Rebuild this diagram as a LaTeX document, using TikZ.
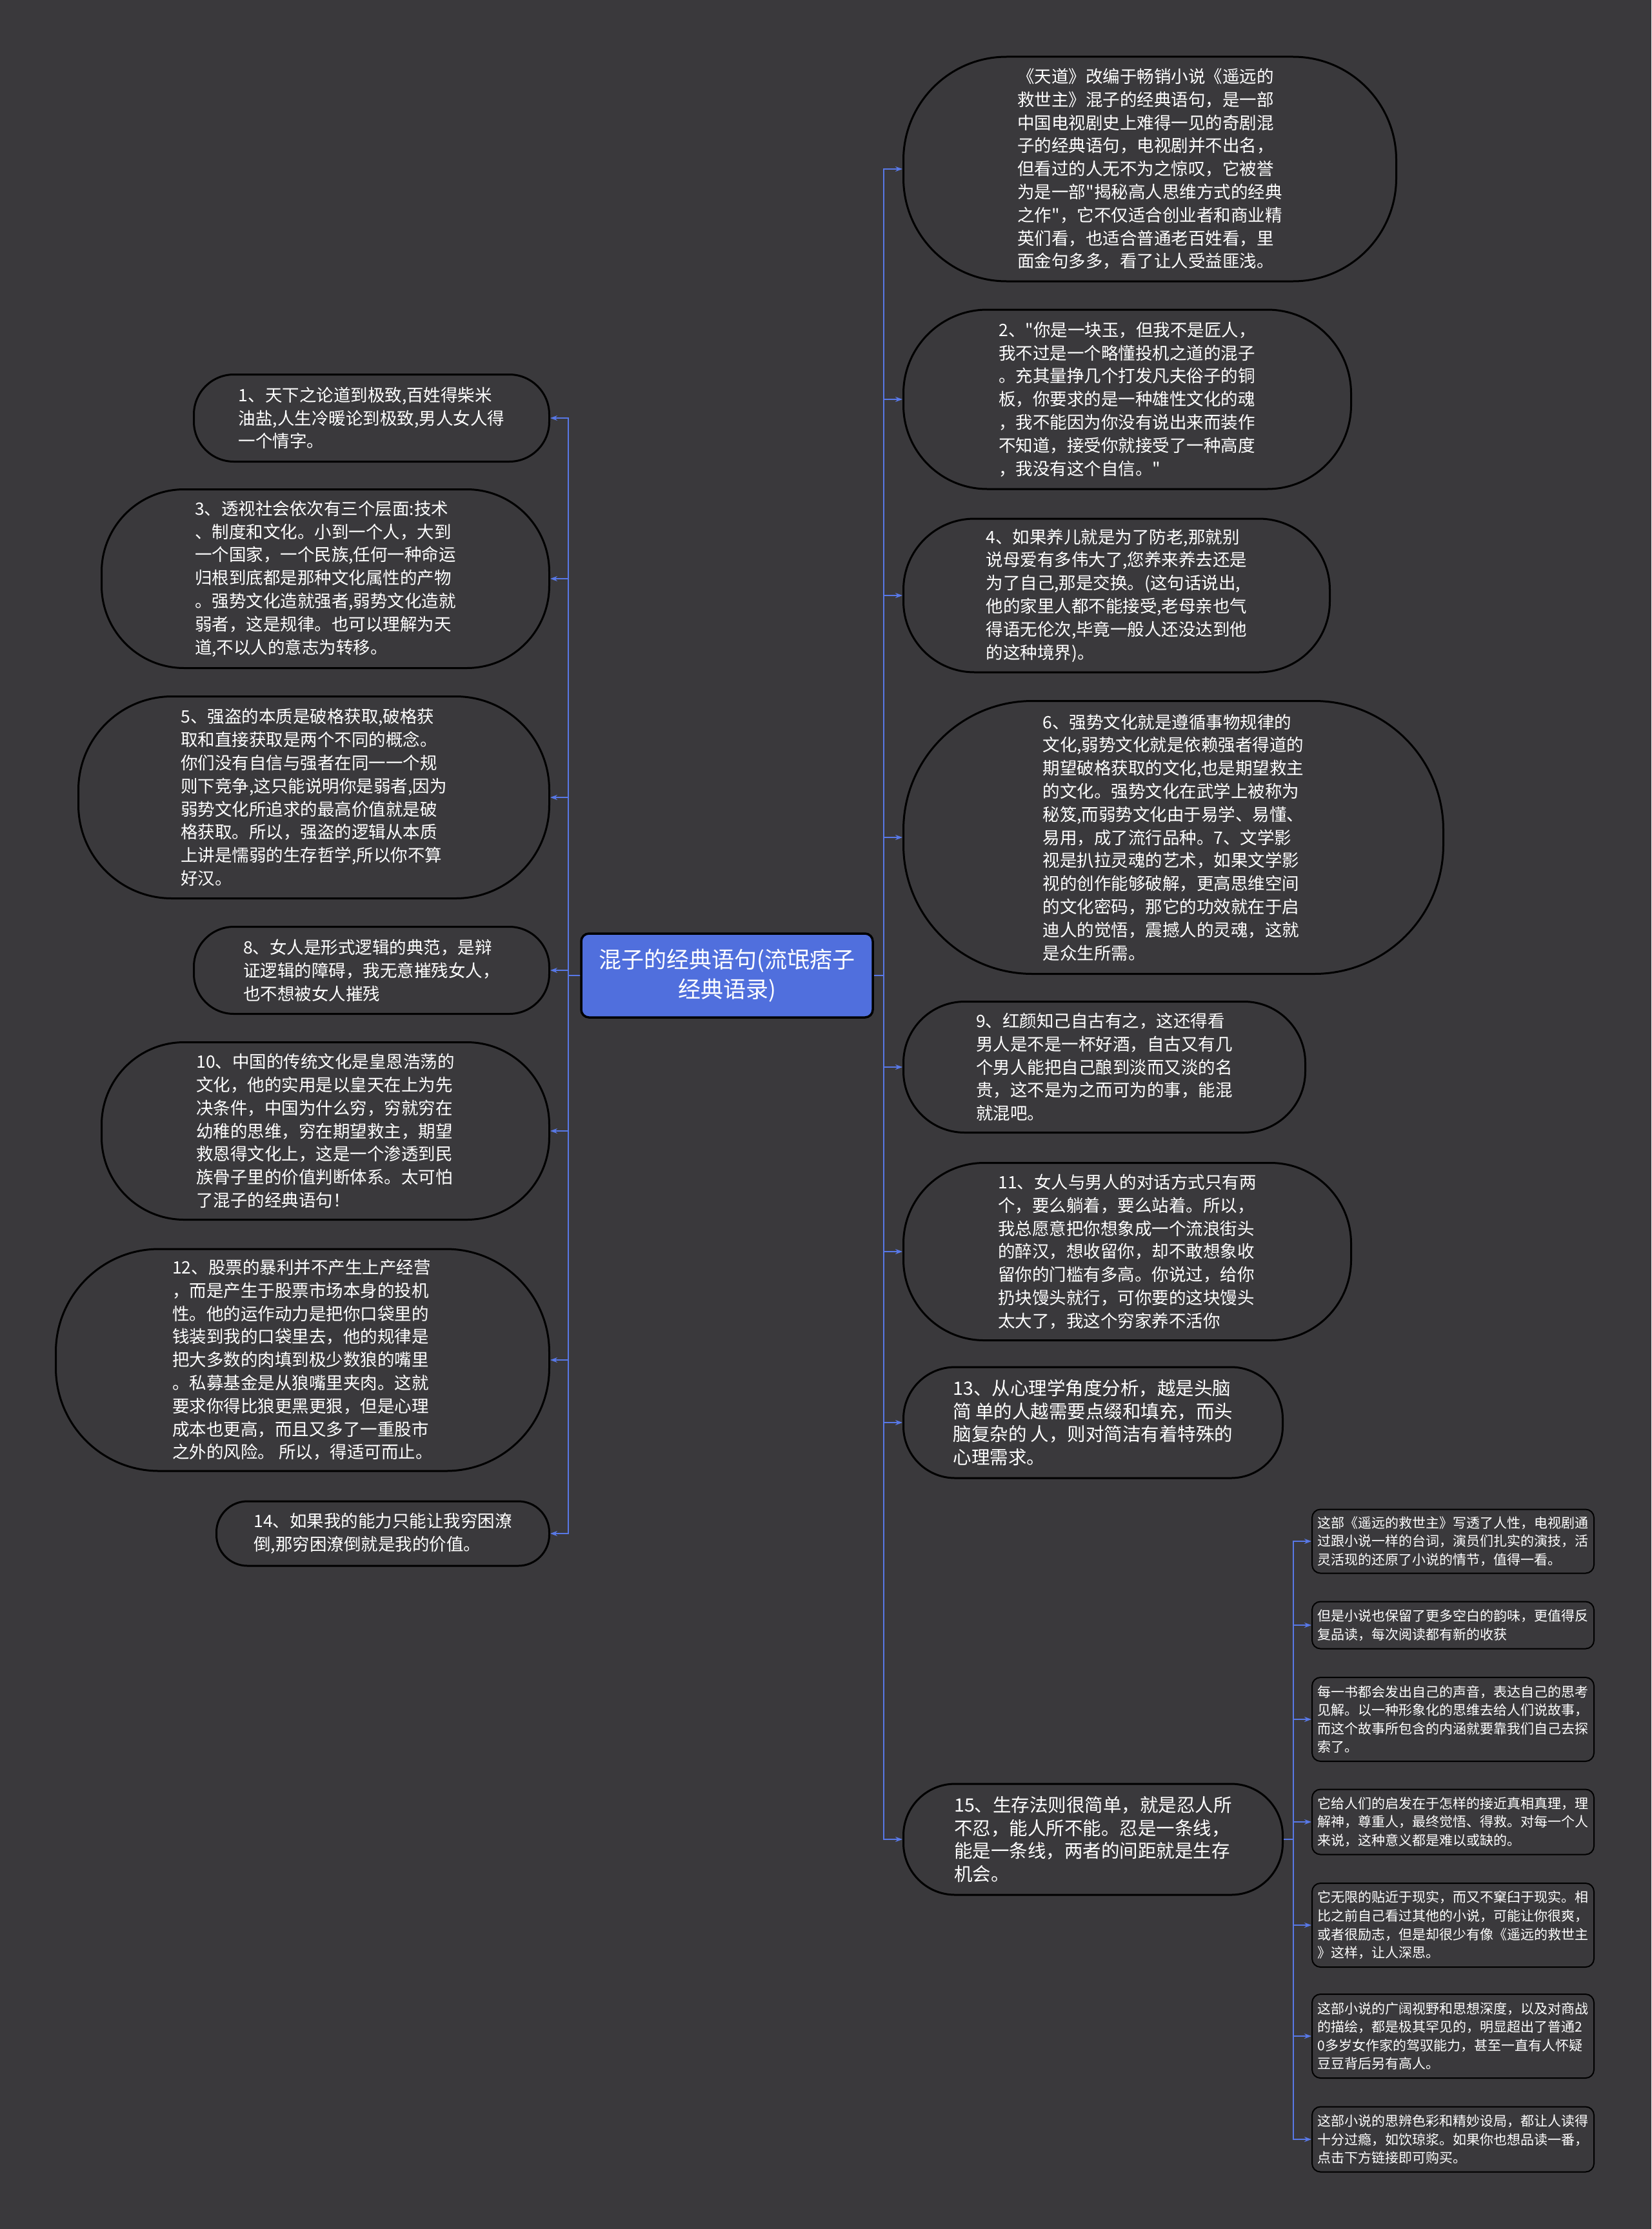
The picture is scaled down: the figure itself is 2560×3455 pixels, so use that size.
\documentclass[tikz,border=0pt]{standalone}
\usepackage{fontspec}
\setmainfont{Noto Sans CJK SC}
\usetikzlibrary{arrows.meta}
\definecolor{mapBg}{RGB}{58,57,60}
\definecolor{linkBlue}{RGB}{88,120,230}
\definecolor{rootBlue}{RGB}{80,111,221}
\newcommand{\qt}{\textquotedbl{}}
\tikzset{
  topic/.style={draw=black,line width=3pt,fill=mapBg,text=white,align=left,inner sep=8pt,
    font=\fontsize{26.5pt}{35.8pt}\selectfont},
  pill/.style={rounded corners=#1},
  note/.style={draw=black,line width=2pt,fill=mapBg,text=white,align=left,inner sep=8pt,
    rounded corners=13pt,minimum width=437pt,font=\fontsize{21pt}{28.6pt}\selectfont},
  link/.style={draw=linkBlue,line width=2.8pt,-{Stealth[length=11pt,width=8pt]}},
}
\begin{document}
\begin{tikzpicture}[x=1pt,y=-1pt]
  \fill[mapBg] (0,0) rectangle (2560,3455);
  \useasboundingbox (0,0) rectangle (2560,3455);
  \node[draw=black,line width=3.5pt,fill=rootBlue,text=white,rounded corners=12pt,align=center,
    minimum width=452pt,minimum height=130pt,font=\fontsize{35pt}{46pt}\selectfont] (root) at (1127,1512)
    {混子的经典语句(流氓痞子\\经典语录)};
  \coordinate (rjoint) at (1370,1512);
  \coordinate (ljoint) at (881,1512);
  % right side
  \node[topic,pill=160pt,anchor=west,minimum width=764pt,minimum height=348pt] (r1) at (1399,262)
    {《天道》改编于畅销小说《遥远的\\救世主》混子的经典语句，是一部\\中国电视剧史上难得一见的奇剧混\\子的经典语句，电视剧并不出名，\\但看过的人无不为之惊叹，它被誉\\为是一部\qt 揭秘高人思维方式的经典\\之作\qt ，它不仅适合创业者和商业精\\英们看，也适合普通老百姓看，里\\面金句多多，看了让人受益匪浅。};
  \node[topic,pill=130pt,anchor=west,minimum width=694pt,minimum height=278pt] (r2) at (1399,619)
    {2、\qt 你是一块玉，但我不是匠人，\\我不过是一个略懂投机之道的混子\\。充其量挣几个打发凡夫俗子的铜\\板，你要求的是一种雄性文化的魂\\，我不能因为你没有说出来而装作\\不知道，接受你就接受了一种高度\\，我没有这个自信。\qt};
  \node[topic,pill=110pt,anchor=west,minimum width=661pt,minimum height=238pt] (r4) at (1399,923)
    {4、如果养儿就是为了防老,那就别\\说母爱有多伟大了,您养来养去还是\\为了自己,那是交换。(这句话说出,\\他的家里人都不能接受,老母亲也气\\得语无伦次,毕竟一般人还没达到他\\的这种境界)。};
  \node[topic,pill=200pt,anchor=west,minimum width=837pt,minimum height=423pt] (r6) at (1399,1298)
    {6、强势文化就是遵循事物规律的\\文化,弱势文化就是依赖强者得道的\\期望破格获取的文化,也是期望救主\\的文化。强势文化在武学上被称为\\秘笈,而弱势文化由于易学、易懂、\\易用，成了流行品种。7、文学影\\视是扒拉灵魂的艺术，如果文学影\\视的创作能够破解，更高思维空间\\的文化密码，那它的功效就在于启\\迪人的觉悟，震撼人的灵魂，这就\\是众生所需。};
  \node[topic,pill=95pt,anchor=west,minimum width=623pt,minimum height=203pt] (r9) at (1399,1654)
    {9、红颜知己自古有之，这还得看\\男人是不是一杯好酒，自古又有几\\个男人能把自己酿到淡而又淡的名\\贵，这不是为之而可为的事，能混\\就混吧。};
  \node[topic,pill=125pt,anchor=west,minimum width=694pt,minimum height=275pt] (r11) at (1399,1940)
    {11、女人与男人的对话方式只有两\\个，要么躺着，要么站着。所以，\\我总愿意把你想象成一个流浪街头\\的醉汉，想收留你，却不敢想象收\\留你的门槛有多高。你说过，给你\\扔块馒头就行，可你要的这块馒头\\太大了，我这个穷家养不活你};
  \node[topic,pill=80pt,anchor=west,minimum width=588pt,minimum height=172pt,
    font=\fontsize{28.5pt}{35.8pt}\selectfont] (r13) at (1399,2205)
    {13、从心理学角度分析，越是头脑\\简 单的人越需要点缀和填充，而头\\脑复杂的 人，则对简洁有着特殊的\\心理需求。};
  \node[topic,pill=80pt,anchor=west,minimum width=588pt,minimum height=172pt,
    font=\fontsize{28.5pt}{35.8pt}\selectfont] (r15) at (1399,2851)
    {15、生存法则很简单，就是忍人所\\不忍，能人所不能。忍是一条线，\\能是一条线，两者的间距就是生存\\机会。};
  % left side
  \node[topic,pill=62pt,anchor=east,minimum width=551pt,minimum height=135pt] (l1) at (853,648)
    {1、天下之论道到极致,百姓得柴米\\油盐,人生冷暖论到极致,男人女人得\\一个情字。};
  \node[topic,pill=128pt,anchor=east,minimum width=694pt,minimum height=277pt] (l3) at (853,897)
    {3、透视社会依次有三个层面:技术\\、制度和文化。小到一个人，大到\\一个国家，一个民族,任何一种命运\\归根到底都是那种文化属性的产物\\。强势文化造就强者,弱势文化造就\\弱者，这是规律。也可以理解为天\\道,不以人的意志为转移。};
  \node[topic,pill=145pt,anchor=east,minimum width=730pt,minimum height=313pt] (l5) at (853,1236)
    {5、强盗的本质是破格获取,破格获\\取和直接获取是两个不同的概念。\\你们没有自信与强者在同一一个规\\则下竞争,这只能说明你是弱者,因为\\弱势文化所追求的最高价值就是破\\格获取。所以，强盗的逻辑从本质\\上讲是懦弱的生存哲学,所以你不算\\好汉。};
  \node[topic,pill=62pt,anchor=east,minimum width=551pt,minimum height=135pt] (l8) at (853,1504)
    {8、女人是形式逻辑的典范，是辩\\证逻辑的障碍，我无意摧残女人，\\也不想被女人摧残};
  \node[topic,pill=128pt,anchor=east,minimum width=694pt,minimum height=275pt] (l10) at (853,1753)
    {10、中国的传统文化是皇恩浩荡的\\文化，他的实用是以皇天在上为先\\决条件，中国为什么穷，穷就穷在\\幼稚的思维，穷在期望救主，期望\\救恩得文化上，这是一个渗透到民\\族骨子里的价值判断体系。太可怕\\了混子的经典语句！};
  \node[topic,pill=160pt,anchor=east,minimum width=765pt,minimum height=344pt] (l12) at (853,2108)
    {12、股票的暴利并不产生上产经营\\，而是产生于股票市场本身的投机\\性。他的运作动力是把你口袋里的\\钱装到我的口袋里去，他的规律是\\把大多数的肉填到极少数狼的嘴里\\。私募基金是从狼嘴里夹肉。这就\\要求你得比狼更黑更狠，但是心理\\成本也更高，而且又多了一重股市\\之外的风险。 所以，得适可而止。};
  \node[topic,pill=48pt,anchor=east,minimum width=516pt,minimum height=100pt] (l14) at (853,2377)
    {14、如果我的能力只能让我穷困潦\\倒,那穷困潦倒就是我的价值。};
  % notes of 15
  \coordinate (sjoint) at (2005,2851);
  \node[note,anchor=west,minimum height=99pt] (s1) at (2033,2389)
    {这部《遥远的救世主》写透了人性，电视剧通\\过跟小说一样的台词，演员们扎实的演技，活\\灵活现的还原了小说的情节，值得一看。};
  \node[note,anchor=west,minimum height=73pt] (s2) at (2033,2519)
    {但是小说也保留了更多空白的韵味，更值得反\\复品读，每次阅读都有新的收获};
  \node[note,anchor=west,minimum height=130pt] (s3) at (2033,2665)
    {每一书都会发出自己的声音，表达自己的思考\\见解。以一种形象化的思维去给人们说故事，\\而这个故事所包含的内涵就要靠我们自己去探\\索了。};
  \node[note,anchor=west,minimum height=101pt] (s4) at (2033,2824)
    {它给人们的启发在于怎样的接近真相真理，理\\解神，尊重人，最终觉悟、得救。对每一个人\\来说，这种意义都是难以或缺的。};
  \node[note,anchor=west,minimum height=130pt] (s5) at (2033,2984)
    {它无限的贴近于现实，而又不窠臼于现实。相\\比之前自己看过其他的小说，可能让你很爽，\\或者很励志，但是却很少有像《遥远的救世主\\》这样，让人深思。};
  \node[note,anchor=west,minimum height=130pt] (s6) at (2033,3156)
    {这部小说的广阔视野和思想深度，以及对商战\\的描绘，都是极其罕见的，明显超出了普通2\\0多岁女作家的驾驭能力，甚至一直有人怀疑\\豆豆背后另有高人。};
  \node[note,anchor=west,minimum height=101pt] (s7) at (2033,3316)
    {这部小说的思辨色彩和精妙设局，都让人读得\\十分过瘾，如饮琼浆。如果你也想品读一番，\\点击下方链接即可购买。};
  % connectors
  \foreach \n in {r1,r2,r4,r6,r9,r11,r13,r15}
    \draw[link] (root.east) -- (rjoint) |- (\n.west);
  \foreach \n in {l1,l3,l5,l8,l10,l12,l14}
    \draw[link] (root.west) -- (ljoint) |- (\n.east);
  \foreach \n in {s1,s2,s3,s4,s5,s6,s7}
    \draw[link] (r15.east) -- (sjoint) |- (\n.west);
\end{tikzpicture}
\end{document}
